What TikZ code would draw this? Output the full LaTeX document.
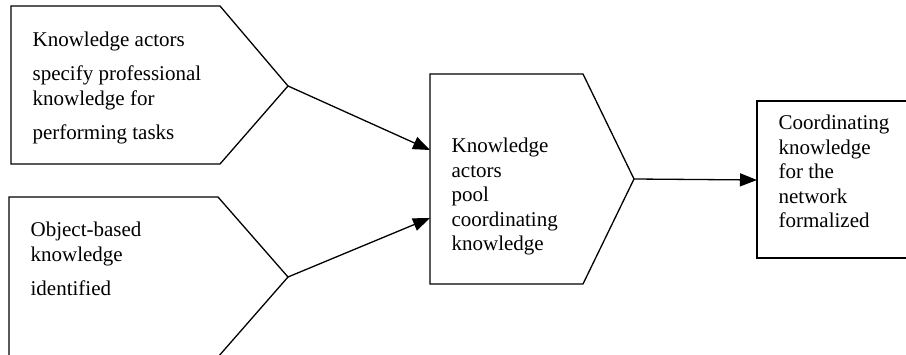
\documentclass[tikz,border=0pt]{standalone}
\usepackage{fontspec}
\setmainfont{Liberation Serif}
\usetikzlibrary{arrows.meta}

\begin{document}
\begin{tikzpicture}[x=1pt,y=-1pt,line width=1.3pt,
  txt/.style={anchor=base west,align=left,inner sep=0pt,font=\fontsize{21}{24.5}\selectfont},
  flow/.style={-{Triangle[length=17pt,width=13pt]}}]
\useasboundingbox (0,0) rectangle (906,355);
\clip (0,0) rectangle (906,355);
% input shapes
\draw (11,6) -- (220,6) -- (288,86) -- (220,164) -- (11,164) -- cycle;
\draw (9,357) -- (9,197) -- (218,197) -- (288,277) -- (218,357);
% text nodes sit on the baseline of their last line
\node[txt] (actors) at (32,140) {Knowledge actors\\[10pt]specify professional\\knowledge for\\[10pt]performing tasks};
\node[txt] (object) at (30,296) {Object-based\\knowledge\\[10pt]identified};
% pooling shape
\draw (430,74) -- (583,74) -- (634,179) -- (583,284) -- (430,284) -- cycle;
\node[txt] (pool) at (451,251) {Knowledge\\actors\\pool\\coordinating\\knowledge};
% output box
\draw (910,101) -- (757,101) -- (757,258) -- (910,258);
\node[txt] (formal) at (778,228) {Coordinating\\knowledge\\for the\\network\\formalized};
% connectors
\coordinate (tipA) at (288,86);
\coordinate (tipB) at (288,277);
\coordinate (tipC) at (634,179);
\coordinate (inA) at (430,150);
\coordinate (inB) at (430,218);
\coordinate (inC) at (757,180);
\draw[flow] (tipA) -- (inA);
\draw[flow] (tipB) -- (inB);
\draw[flow] (tipC) -- (inC);
\end{tikzpicture}
\end{document}
